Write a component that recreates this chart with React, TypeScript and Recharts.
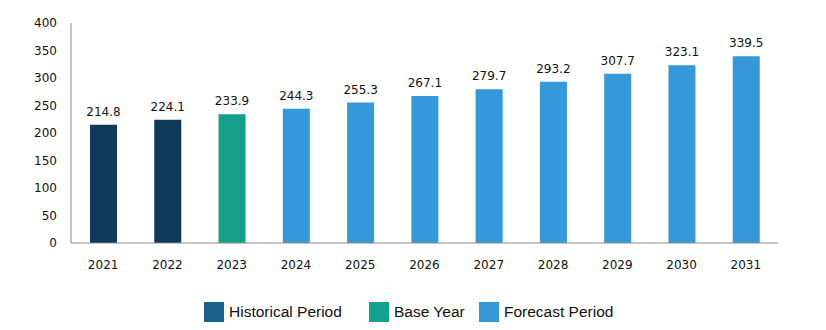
import React from "react";
import { BarChart, Bar, XAxis, YAxis, Cell, LabelList, Legend } from "recharts";

const years = ["2021", "2022", "2023", "2024", "2025", "2026", "2027", "2028", "2029", "2030", "2031"];
const values = [214.8, 224.1, 233.9, 244.3, 255.3, 267.1, 279.7, 293.2, 307.7, 323.1, 339.5];
const periods = ["hist", "hist", "base", "fc", "fc", "fc", "fc", "fc", "fc", "fc", "fc"];
const yTicks = [0, 50, 100, 150, 200, 250, 300, 350, 400];

const barColors: Record<string, string> = { hist: "#0F3A5A", base: "#14A08A", fc: "#3498DB" };
const legendItems = [
  { label: "Historical Period", color: "#1B5F8F" },
  { label: "Base Year", color: "#14A08A" },
  { label: "Forecast Period", color: "#3498DB" },
];

const data = years.map((y, i) => ({ year: y, value: values[i], period: periods[i] }));

const LegendContent = () => (
  <div style={{ position: "relative", height: 40, width: 826, fontFamily: "Liberation Sans, Arial, sans-serif", fontSize: 15.5, color: "#111" }}>
    {legendItems.map((it, i) => {
      const lefts = [204, 369, 479];
      return (
        <div key={it.label} style={{ position: "absolute", left: lefts[i], top: 12, display: "flex", alignItems: "center" }}>
          <div style={{ width: 20, height: 20, background: it.color, marginRight: 5 }} />
          <span>{it.label}</span>
        </div>
      );
    })}
  </div>
);

export default function App() {
  return (
    <div style={{ position: "absolute", left: 0, top: 0, width: 826, height: 330, background: "#fff" }}>
      <BarChart width={826} height={330} data={data} margin={{ top: 23, right: 48, left: 0, bottom: 0 }}>
        <XAxis
          dataKey="year"
          axisLine={{ stroke: "#8a8a8a" }}
          tickLine={false}
          tickSize={0}
          tickMargin={17}
          height={47}
          tick={{ fill: "#111", fontSize: 12, fontFamily: "DejaVu Sans, Verdana, sans-serif" }}
        />
        <YAxis
          domain={[0, 400]}
          ticks={yTicks}
          width={71}
          axisLine={{ stroke: "#8a8a8a" }}
          tickLine={false}
          tickSize={0}
          tickMargin={14}
          tick={{ fill: "#111", fontSize: 12, fontFamily: "DejaVu Sans, Verdana, sans-serif" }}
        />
        <Legend verticalAlign="bottom" height={40} content={<LegendContent />} wrapperStyle={{ left: 0, bottom: 0, width: 826 }} />
        <Bar dataKey="value" barSize={27} isAnimationActive={false}>
          {data.map((d) => (
            <Cell key={d.year} fill={barColors[d.period]} />
          ))}
          <LabelList
            dataKey="value"
            position="top"
            offset={9}
            style={{ fill: "#111", fontSize: 12, fontFamily: "DejaVu Sans, Verdana, sans-serif" }}
            formatter={(v: number) => v.toFixed(1)}
          />
        </Bar>
      </BarChart>
    </div>
  );
}
